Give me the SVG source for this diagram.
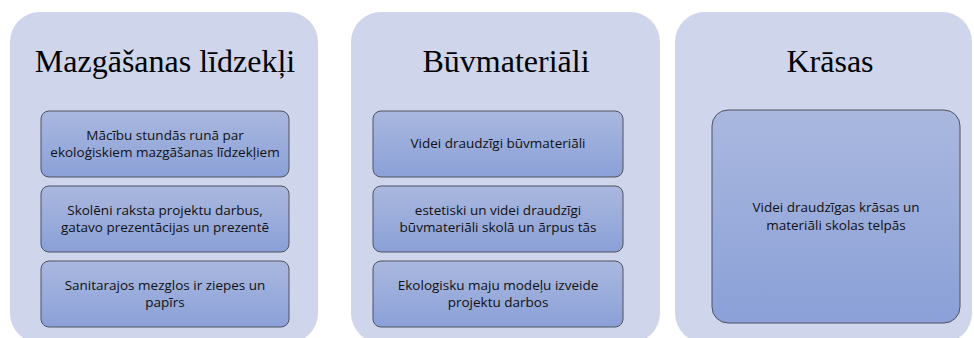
<svg xmlns="http://www.w3.org/2000/svg" width="974" height="338" viewBox="0 0 974 338">
<defs>
<linearGradient id="g" x1="0" y1="0" x2="0" y2="1">
<stop offset="0" stop-color="#aab8df"/>
<stop offset="1" stop-color="#8aa0d7"/>
</linearGradient>
<style>
.panel{fill:#cfd5ea}
.box{fill:url(#g);stroke:#4d5260;stroke-width:1}
.h{font-family:"Liberation Serif",serif;font-size:32px;fill:#000;text-anchor:middle}
.t{font-family:"Open Sans","Liberation Sans",sans-serif;font-size:13.5px;fill:#111;text-anchor:middle}
</style>
</defs>
<rect width="974" height="338" fill="#fff"/>
<g id="panel1">
<rect class="panel" x="10" y="12" width="308" height="331" rx="30"/>
<text class="h" x="165" y="72">Mazgāšanas līdzekļi</text>
</g>
<g id="box1a"><rect class="box" x="41" y="111" width="248" height="66" rx="8"/>
<text class="t" x="165" y="140">Mācību stundās runā par</text><text class="t" x="165" y="157">ekoloģiskiem mazgāšanas līdzekļiem</text></g>
<g id="box1b"><rect class="box" x="41" y="186" width="248" height="66" rx="8"/>
<text class="t" x="165" y="215">Skolēni raksta projektu darbus,</text><text class="t" x="165" y="232">gatavo prezentācijas un prezentē</text></g>
<g id="box1c"><rect class="box" x="41" y="261" width="248" height="66" rx="8"/>
<text class="t" x="165" y="290">Sanitarajos mezglos ir ziepes un</text><text class="t" x="165" y="307">papīrs</text></g>
<g id="panel2">
<rect class="panel" x="351" y="12" width="309" height="331" rx="30"/>
<text class="h" x="506" y="72">Būvmateriāli</text>
</g>
<g id="box2a"><rect class="box" x="373" y="111" width="250" height="66" rx="8"/>
<text class="t" x="498" y="148">Videi draudzīgi būvmateriāli</text></g>
<g id="box2b"><rect class="box" x="373" y="186" width="250" height="66" rx="8"/>
<text class="t" x="498" y="215">estetiski un videi draudzīgi</text><text class="t" x="498" y="232">būvmateriāli skolā un ārpus tās</text></g>
<g id="box2c"><rect class="box" x="373" y="261" width="250" height="66" rx="8"/>
<text class="t" x="498" y="290">Ekologisku maju modeļu izveide</text><text class="t" x="498" y="307">projektu darbos</text></g>
<g id="panel3">
<rect class="panel" x="675" y="12" width="297" height="331" rx="30"/>
<text class="h" x="830" y="72">Krāsas</text>
</g>
<g id="box3a"><rect class="box" x="712" y="110" width="248" height="213" rx="16"/>
<text class="t" x="836" y="212">Videi draudzīgas krāsas un</text><text class="t" x="836" y="230">materiāli skolas telpās</text></g>
<g id="connectors"></g>
</svg>
